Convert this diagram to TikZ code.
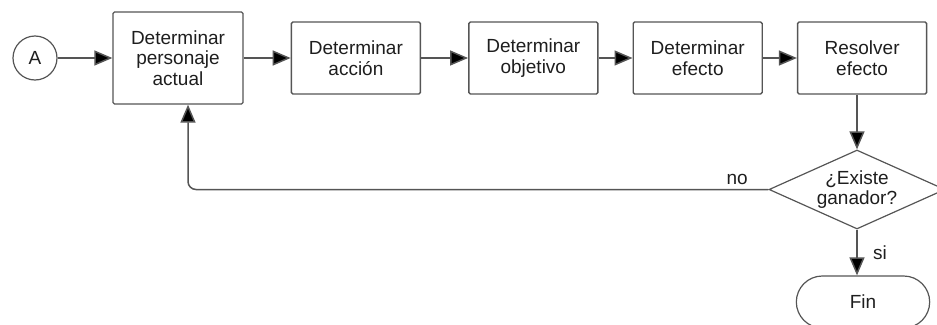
\documentclass[tikz,border=0pt]{standalone}
\usepackage{fontspec}
\setmainfont{Liberation Sans}
\usetikzlibrary{shapes,positioning,arrows.meta}
\definecolor{linegray}{RGB}{85,85,85}
\definecolor{textgray}{RGB}{30,30,30}

\begin{document}
\begin{tikzpicture}[
    x=1pt,y=1pt,
    font=\fontsize{19}{20.5}\selectfont,
    PBox/.style={
        rectangle,
        draw=linegray,
        line width=1.4pt,
        rounded corners=1.5pt,
        minimum width=129pt,
        minimum height=72pt,
        align=center,
        text=textgray
    },
    Dec/.style={
        diamond,
        shape aspect=2.25,
        draw=linegray,
        line width=1.2pt,
        minimum width=176pt,
        minimum height=79pt,
        inner sep=0pt,
        align=center,
        text=textgray
    },
    Flow/.style={
        draw=linegray,
        line width=1.5pt,
        -{Triangle[length=18pt,width=15pt,fill=black]}
    }
    ]
    \useasboundingbox (0,0) rectangle (937,-324);
    \node[circle,draw=linegray,line width=1.2pt,minimum size=44pt,inner sep=0pt,text=textgray] (conA) at (35,-58) {A};
    \node[PBox,minimum width=130pt,minimum height=92pt] (pers) at (178,-58) {Determinar\\personaje\\actual};
    \node[PBox] (accion) [right=47pt of pers] {Determinar\\acción};
    \node[PBox] (objetivo) [right=47pt of accion] {Determinar\\objetivo};
    \node[PBox] (efecto) [right=34pt of objetivo] {Determinar\\efecto};
    \node[PBox] (resolver) [right=34pt of efecto] {Resolver\\efecto};
    \node[Dec] (ganador) at (857,-189.5) {¿Existe\\ganador?};
    \node[rounded rectangle,draw=linegray,line width=1.2pt,minimum width=140pt,minimum height=52pt,text=textgray] (fin) at (863,-302) {Fin};

    \draw[Flow] (conA) -- (pers);
    \draw[Flow] (pers) -- (accion);
    \draw[Flow] (accion) -- (objetivo);
    \draw[Flow] (objetivo) -- (efecto);
    \draw[Flow] (efecto) -- (resolver);
    \draw[Flow] (resolver.south -| ganador.north) -- (ganador.north);
    \draw[Flow,rounded corners=8pt] (ganador.west) -| node[pos=0.027,above=1pt,text=textgray] (lblno) {no} ([xshift=10pt]pers.south);
    \draw[Flow] (ganador.south) -- node[midway,right=12pt,text=textgray] (lblsi) {si} (ganador.south |- fin.north);
\end{tikzpicture}
\end{document}
